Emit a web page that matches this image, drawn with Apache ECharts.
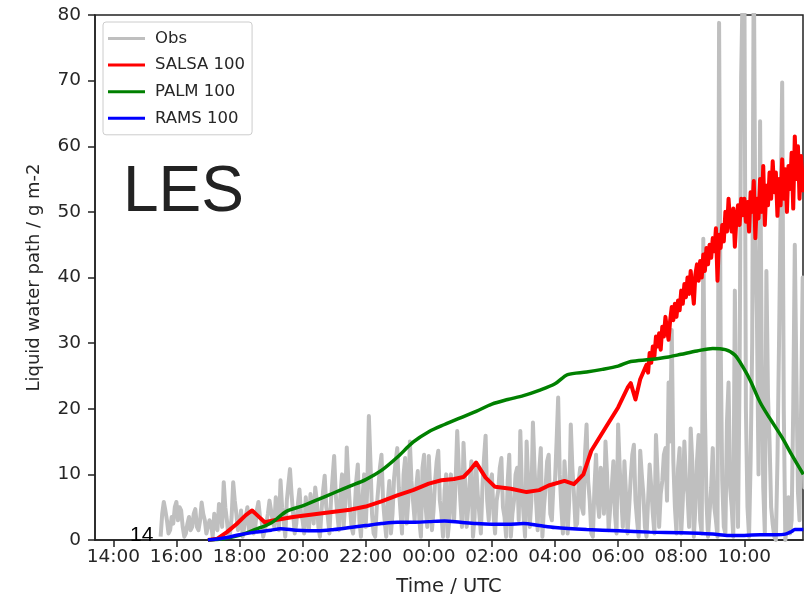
<!DOCTYPE html>
<html>
<head>
<meta charset="utf-8">
<script src="https://cdn.jsdelivr.net/npm/echarts@6/dist/echarts.min.js"></script>
<style>
  html, body { margin: 0; padding: 0; background: #fff; }
  #chart { width: 804px; height: 602px; }
</style>
</head>
<body>
<div id="chart"></div>
<script>
// hours counted from 00:00 of the first day (24 = 00:00 next day)
var tickHours = [14, 16, 18, 20, 22, 24, 26, 28, 30, 32, 34];

// observations, one value every 0.05 h from 15:30 (one row per hour)
var obsStart = 15.5;
var obsStep = 0.05;
var obsValues = [
    0.5, 4.0, 5.8, 4.5, 3.0, 1.0, 1.5, 3.5, 2.5, 5.0,
    5.8, 3.0, 5.0, 4.5, 2.0, 0.5, 1.0, 2.5, 3.5, 1.5, 2.0, 4.0, 4.7, 2.0, 1.5, 3.0, 5.7, 4.0, 3.0, 1.0,
    1.0, 3.0, 2.5, 0.5, 4.0, 2.0, 1.5, 5.5, 5.0, 2.0, 8.8, 5.0, 3.0, 0.5, 1.0, 3.5, 8.8, 6.0, 4.0, 1.5,
    2.0, 4.5, 0.5, 2.0, 3.5, 5.0, 1.5, 3.0, 4.0, 1.0, 2.0, 4.5, 5.8, 3.5, 3.0, 0.5, 0.5, 2.5, 4.0, 6.0,
    5.7, 3.0, 2.0, 6.5, 4.5, 1.5, 9.1, 5.0, 3.0, 0.5, 6.0, 8.5, 10.8, 7.0, 4.0, 1.0, 2.5, 5.5, 7.7, 4.0,
    3.0, 1.0, 6.5, 4.0, 1.5, 7.0, 5.0, 2.5, 8.0, 6.0, 2.0, 0.5, 4.5, 7.5, 9.8, 5.0, 3.5, 1.0, 6.0, 9.5,
    12.8, 7.0, 4.0, 1.5, 7.0, 10.0, 2.0, 5.5, 14.1, 9.0, 5.0, 2.0, 1.0, 4.5, 9.0, 11.5, 3.0, 0.5, 6.5, 10.0,
    2.0, 8.0, 18.9, 12.0, 4.0, 1.0, 0.5, 5.0, 8.0, 11.0, 13.0, 6.0, 3.0, 0.5, 6.0, 9.0, 1.0, 4.0, 9.5, 12.0,
    14.0, 8.0, 4.5, 1.0, 10.0, 12.5, 2.5, 6.0, 15.0, 9.0, 6.0, 3.0, 8.0, 10.5, 3.0, 0.5, 11.0, 13.0, 5.0, 2.0,
    12.8, 7.0, 1.5, 4.5, 9.0, 12.0, 13.6, 6.0, 4.0, 0.5, 7.5, 10.0, 0.5, 3.0, 10.0, 7.0, 3.0, 9.0, 16.6, 11.0,
    6.0, 2.0, 14.8, 9.0, 2.0, 5.0, 9.0, 12.0, 0.5, 3.5, 11.5, 7.0, 4.0, 1.0, 8.0, 12.5, 15.9, 6.0, 3.0, 9.0,
    10.0, 4.0, 1.0, 6.0, 7.5, 11.0, 12.5, 5.0, 3.5, 0.5, 9.0, 13.0, 0.5, 4.0, 6.0, 10.0, 11.0, 3.0, 16.6, 8.0,
    4.0, 0.5, 15.0, 9.0, 2.0, 6.0, 17.9, 11.0, 6.0, 1.5, 10.5, 14.0, 0.5, 5.0, 8.0, 12.0, 13.0, 4.0, 3.0, 8.5,
    9.0, 15.0, 21.7, 10.0, 5.0, 1.0, 12.0, 8.0, 1.0, 6.0, 17.6, 11.0, 7.0, 2.0, 2.5, 9.0, 11.0, 5.0, 4.0, 13.0,
    17.6, 9.0, 6.0, 1.0, 0.5, 8.0, 13.0, 6.0, 3.5, 11.0, 9.0, 4.0, 15.0, 10.0, 1.5, 5.0, 8.0, 12.0, 4.0, 1.0,
    17.6, 11.0, 6.5, 2.0, 12.0, 7.0, 1.0, 5.0, 9.5, 13.0, 14.5, 6.0, 3.0, 0.5, 13.6, 10.0, 7.0, 2.0, 0.5, 6.0,
    11.5, 8.0, 4.0, 1.0, 16.0, 10.0, 2.0, 7.0, 9.0, 13.0, 14.0, 6.0, 24.0, 15.0, 32.0, 12.0, 5.0, 1.0, 11.0, 14.0,
    1.0, 6.0, 15.0, 9.0, 7.0, 2.0, 17.0, 12.0, 0.5, 5.0, 12.0, 16.0, 3.0, 1.0, 45.9, 20.0, 6.0, 0.5, 0.5, 8.0,
    14.0, 5.0, 3.0, 0.5, 78.8, 30.0, 9.0, 2.0, 1.0, 18.0, 24.0, 8.0, 5.0, 0.5, 38.0, 15.0, 2.0, 25.0, 70.6, 85.0,
    88.0, 20.0, 5.0, 0.5, 12.0, 30.0, 90.0, 45.0, 33.8, 10.0, 63.8, 28.0, 8.0, 1.0, 41.0, 22.0, 15.0, 5.0, 2.4, 0.5,
    0.0, 12.0, 30.0, 50.0, 69.7, 20.0, 0.0, 2.0, 6.5, 1.0, 3.0, 20.0, 45.0, 25.0, 7.3, 3.0, 20.0, 40.0, 8.0, 12.0
];

var salsaHours = [17.0, 17.3, 17.6, 17.9, 18.2, 18.4, 18.6, 18.8, 19.1, 19.7, 20.0, 20.5, 21.0, 21.5, 22.0, 22.5, 23.0, 23.5,
    24.0, 24.4, 24.8, 25.1, 25.3, 25.5, 25.8, 26.1, 26.6, 27.1, 27.5, 27.8, 28.3, 28.6, 28.9, 29.15, 29.6, 30.0,
    30.3, 30.4, 30.55, 30.7,
    30.90, 30.95, 31.00, 31.05, 31.10, 31.15, 31.20, 31.25, 31.30, 31.35, 31.40, 31.45, 31.50, 31.55, 31.60, 31.65,
    31.70, 31.75, 31.80, 31.85, 31.90, 31.95, 32.00, 32.05, 32.10, 32.15, 32.20, 32.25, 32.30, 32.35, 32.40, 32.45,
    32.50, 32.55, 32.60, 32.65, 32.70, 32.75, 32.80, 32.85, 32.90, 32.95, 33.00, 33.05, 33.10, 33.15, 33.20, 33.25,
    33.30, 33.35, 33.40, 33.45, 33.50, 33.55, 33.60, 33.65, 33.70, 33.75, 33.80, 33.85, 33.90, 33.95, 34.00, 34.05,
    34.10, 34.15, 34.20, 34.25, 34.30, 34.35, 34.40, 34.45, 34.50, 34.55, 34.60, 34.65, 34.70, 34.75, 34.80, 34.85,
    34.90, 34.95, 35.00, 35.05, 35.10, 35.15, 35.20, 35.25, 35.30, 35.35, 35.40, 35.45, 35.50, 35.55, 35.60, 35.65,
    35.70, 35.75, 35.80, 35.87];
var salsaValues = [0, 0.2, 1.2, 2.4, 3.8, 4.5, 3.6, 2.7, 3.0, 3.5, 3.7, 4.0, 4.3, 4.6, 5.1, 5.9, 6.8, 7.6,
    8.6, 9.1, 9.3, 9.6, 10.6, 11.8, 9.5, 8.1, 7.8, 7.3, 7.6, 8.3, 9.0, 8.5, 10.0, 13.6, 17.1, 20.2,
    23.2, 23.9, 21.4, 24.5,
    26.7, 25.5, 28.5, 27.0, 29.5, 28.0, 31.0, 29.5, 31.5, 29.0, 32.5, 31.0, 34.0, 32.0, 30.5, 33.5,
    35.5, 33.5, 36.0, 34.0, 36.5, 35.0, 38.0, 36.0, 39.0, 37.0, 40.0, 37.5, 41.0, 38.5, 36.0, 40.5,
    42.0, 39.5, 42.5, 40.0, 43.5, 41.0, 44.5, 42.0, 45.0, 43.0, 46.0, 44.0, 47.5, 39.5, 46.5, 44.5,
    48.0, 45.5, 50.0, 47.0, 52.0, 48.5, 47.0, 50.5, 44.7, 49.0, 51.0, 48.0, 52.0, 49.5, 52.0, 48.5,
    51.5, 47.0, 53.0, 50.0, 54.7, 46.0, 52.0, 49.0, 55.0, 50.0, 57.0, 48.0, 54.0, 51.0, 56.0, 52.0,
    57.7, 53.0, 56.0, 49.4, 55.0, 51.0, 58.0, 52.0, 56.5, 50.0, 57.0, 53.5, 59.0, 50.5, 61.5, 55.0,
    60.0, 52.0, 58.5, 53.0];

var palmHours = [17.0, 17.5, 18.0, 18.5, 19.0, 19.5, 20.0, 20.5, 21.0, 21.5, 22.0, 22.5, 23.0, 23.5, 24.0, 24.5, 25.0, 25.5,
    26.0, 26.5, 27.0, 27.5, 28.0, 28.4, 29.0, 29.5, 30.0, 30.4, 31.0, 31.6, 32.0, 32.5, 33.0, 33.4, 33.7, 34.0,
    34.2, 34.5, 34.8, 35.2, 35.5, 35.87];
var palmValues = [0, 0.2, 0.7, 1.6, 2.6, 4.4, 5.2, 6.2, 7.2, 8.2, 9.2, 10.6, 12.6, 14.9, 16.5, 17.6, 18.6, 19.6,
    20.7, 21.4, 22.0, 22.8, 23.8, 25.2, 25.6, 26.0, 26.5, 27.2, 27.5, 27.9, 28.3, 28.8, 29.2, 29.0, 28.2, 26.0,
    24.2, 21.0, 18.6, 15.6, 13.0, 10.0];

var ramsHours = [17.0, 17.5, 18.0, 18.5, 19.0, 19.3, 19.8, 20.5, 21.0, 21.5, 22.0, 22.5, 23.0, 23.5, 24.0, 24.5, 25.0, 25.5,
    26.0, 26.5, 27.0, 27.5, 28.0, 29.0, 30.0, 31.0, 32.0, 33.0, 33.5, 34.0, 34.5, 35.0, 35.3, 35.5, 35.6, 35.87];
var ramsValues = [0, 0.3, 0.8, 1.2, 1.5, 1.7, 1.5, 1.4, 1.6, 1.9, 2.2, 2.5, 2.7, 2.7, 2.8, 2.9, 2.7, 2.5,
    2.4, 2.4, 2.5, 2.2, 1.9, 1.6, 1.4, 1.2, 1.1, 0.9, 0.7, 0.7, 0.8, 0.8, 0.9, 1.3, 1.6, 1.6];

function pairs(xs, ys) {
    return xs.map(function (x, i) { return [x, ys[i]]; });
}
var obsData = obsValues.map(function (v, i) { return [obsStart + i * obsStep, v]; });

function hourLabel(v) {
    var h = Math.round(v) % 24;
    return (h < 10 ? '0' : '') + h + ':00';
}

var textColor = '#262626';
var spine = '#222';

var myChart = echarts.init(document.getElementById('chart'));
var option = {
    animation: false,
    grid: {
        left: 95, right: 1, top: 15, bottom: 59,
        show: true, borderColor: spine, borderWidth: 1.5
    },
    legend: {
        orient: 'vertical',
        left: 103, top: 22,
        backgroundColor: '#fff',
        borderColor: '#ccc', borderWidth: 1, borderRadius: 3,
        padding: [8, 7, 8, 5],
        icon: 'rect',
        itemWidth: 37, itemHeight: 3,
        itemGap: 9.6,
        textStyle: { fontFamily: 'DejaVu Sans', fontSize: 16.5, color: textColor, lineHeight: 16, padding: [0, 0, 0, 5] },
        data: ['Obs', 'SALSA 100', 'PALM 100', 'RAMS 100']
    },
    xAxis: {
        type: 'value',
        min: 13.42, max: 35.86,
        name: 'Time / UTC',
        nameLocation: 'middle',
        nameGap: 37,
        nameTextStyle: { fontFamily: 'DejaVu Sans', fontSize: 19.5, color: textColor },
        axisLine: { lineStyle: { color: spine, width: 1.5 } },
        axisTick: { show: true, length: 7, customValues: tickHours, lineStyle: { color: spine, width: 1.5 } },
        axisLabel: {
            customValues: tickHours, formatter: hourLabel, margin: 8,
            fontFamily: 'DejaVu Sans', fontSize: 18.5, color: textColor
        },
        splitLine: { show: false }
    },
    yAxis: {
        type: 'value',
        min: 0, max: 80, interval: 10,
        name: 'Liquid water path / g m-2',
        nameLocation: 'middle',
        nameGap: 52,
        nameTextStyle: { fontFamily: 'DejaVu Sans', fontSize: 18, color: textColor },
        axisLine: { show: true, lineStyle: { color: spine, width: 1.5 } },
        axisTick: { show: true, length: 7, lineStyle: { color: spine, width: 1.5 } },
        axisLabel: { margin: 14, fontFamily: 'DejaVu Sans', fontSize: 18.5, color: textColor },
        splitLine: { show: false }
    },
    series: [
        { name: 'Obs', type: 'line', data: obsData, showSymbol: false, symbol: 'none',
          lineStyle: { color: '#bfbfbf', width: 4, join: 'round' }, itemStyle: { color: '#bfbfbf' } },
        { name: 'SALSA 100', type: 'line', data: pairs(salsaHours, salsaValues), showSymbol: false, symbol: 'none',
          lineStyle: { color: '#ff0000', width: 4, join: 'round' }, itemStyle: { color: '#ff0000' } },
        { name: 'PALM 100', type: 'line', data: pairs(palmHours, palmValues), showSymbol: false, symbol: 'none', smooth: 0.3,
          lineStyle: { color: '#008000', width: 3.5 }, itemStyle: { color: '#008000' } },
        { name: 'RAMS 100', type: 'line', data: pairs(ramsHours, ramsValues), showSymbol: false, symbol: 'none', smooth: 0.3,
          lineStyle: { color: '#0000ff', width: 3.5 }, itemStyle: { color: '#0000ff' } }
    ],
    graphic: [
        { type: 'text', left: 123, top: 161, z: 10,
          style: { text: 'LES', font: '64px "Liberation Sans"', fill: '#222' } },
        { type: 'text', left: 130, top: 525, z: 10,
          style: { text: '14', font: '21px "Liberation Sans"', fill: '#000' } }
    ]
};
myChart.setOption(option);
</script>
</body>
</html>
